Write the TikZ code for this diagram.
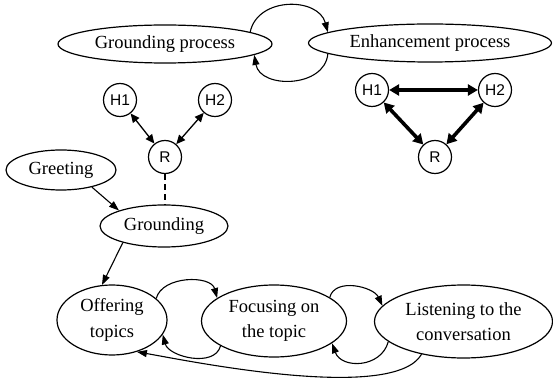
\documentclass[tikz,border=0pt]{standalone}
\usepackage{fontspec}
\setmainfont{Liberation Serif}
\newfontfamily\circfont{Liberation Sans}
\usetikzlibrary{arrows.meta,shapes.geometric}
\begin{document}
\begin{tikzpicture}[x=1pt,y=1pt,
  ell/.style={ellipse,draw,line width=1.2pt,inner sep=0pt},
  lab/.style={align=center,inner sep=0pt,font=\fontsize{18.5}{25.5}\selectfont},
  circ/.style={circle,draw,line width=1.2pt,minimum size=33pt,inner sep=0pt,font=\circfont\fontsize{15.5}{17}\selectfont},
  arr/.style={line width=1.1pt,-{Triangle[length=10pt,width=7pt]}},
  darr/.style={line width=1.3pt,{Triangle[length=9pt,width=8pt]}-{Triangle[length=9pt,width=8pt]}},
  fatarr/.style={line width=3.6pt,{Triangle[length=10pt,width=11pt]}-{Triangle[length=10pt,width=11pt]}}
]
\useasboundingbox (0,0) rectangle (553,380);
% top process nodes
\node[ell,minimum width=214pt,minimum height=38pt,label={[lab]center:Grounding process}] (gp) at (165,336) {};
\node[ell,minimum width=243pt,minimum height=38pt,label={[lab]center:Enhancement process}] (ep) at (430,337) {};
% left triad
\node[circ] (lH1) at (120,280) {H1};
\node[circ] (lH2) at (215,280) {H2};
\node[circ] (lR) at (165,223) {R};
% right triad
\node[circ] (rH1) at (372,290) {H1};
\node[circ] (rH2) at (495,290) {H2};
\node[circ] (rR) at (435,223) {R};
% middle
\node[ell,minimum width=110pt,minimum height=40pt,label={[lab]center:Greeting}] (greet) at (61,210) {};
\node[ell,minimum width=128pt,minimum height=42pt,label={[lab]center:Grounding}] (grd) at (164,154) {};
% bottom
\node[ell,minimum width=110pt,minimum height=70pt,label={[lab]center:{Offering\\topics}}] (off) at (112,60) {};
\node[ell,minimum width=145pt,minimum height=72pt,label={[lab]center:{Focusing on\\the topic}}] (foc) at (274,59) {};
\node[ell,minimum width=178pt,minimum height=73pt,label={[lab]center:{Listening to the\\conversation}}] (lis) at (463.5,58.5) {};

% top loops
\draw[arr] (gp.8) to[out=78,in=105,looseness=1.2] (ep.174);
\draw[arr] (ep.186) to[out=-95,in=-80,looseness=1.2] (gp.-7);
% triads
\draw[darr] (lH1) -- (lR);
\draw[darr] (lH2) -- (lR);
\draw[fatarr] (rH1) -- (rH2);
\draw[fatarr] (rH1) -- (rR);
\draw[fatarr] (rH2) -- (rR);
% middle connectors
\draw[line width=1.8pt,dash pattern=on 6pt off 4pt] (lR) -- (lR |- grd.north);
\draw[arr] (greet.-29) -- (grd.161);
\draw[arr] (grd.202) -- (off.106);
% bottom loops
\draw[arr] (off.26) to[out=75,in=105,looseness=1.0] (foc.158);
\draw[arr] (foc.205) to[out=-105,in=-75,looseness=1.0] (off.-16);
\draw[arr] (foc.23) to[out=75,in=115,looseness=1.0] (lis.169);
\draw[arr] (lis.195) to[out=-105,in=-70,looseness=1.25] (foc.-21);
\draw[arr] (lis.218) to[out=-120,in=-10,looseness=0.5] (off.-52);
\end{tikzpicture}
\end{document}
